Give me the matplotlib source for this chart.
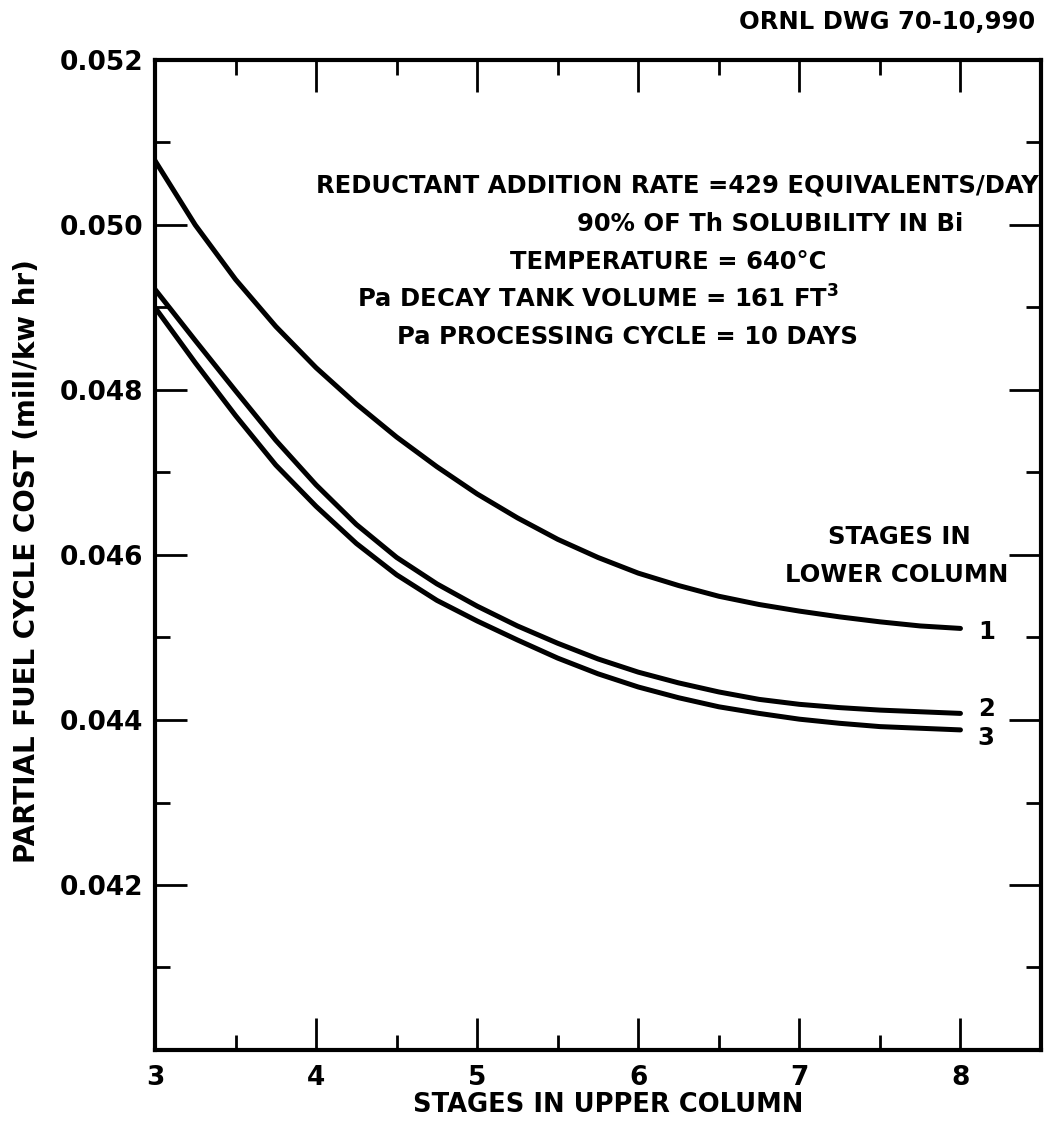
"""
ORNL DWG 70-10,990: partial fuel cycle cost vs stages in the upper column,
one curve per number of stages in the lower column.
Writes out.png.
"""

import matplotlib

matplotlib.use("Agg")
import matplotlib.pyplot as plt
from matplotlib.ticker import MultipleLocator, FixedLocator

# stages in upper column
stages_upper = [3.0, 3.25, 3.5, 3.75, 4.0, 4.25, 4.5, 4.75, 5.0, 5.25, 5.5,
                5.75, 6.0, 6.25, 6.5, 6.75, 7.0, 7.25, 7.5, 7.75, 8.0]

# partial fuel cycle cost, mill/kw hr, for 1, 2 and 3 stages in lower column
cost_lower_1 = [0.05078, 0.05000, 0.04934, 0.04877, 0.04827, 0.04783, 0.04743,
                0.04707, 0.04674, 0.04645, 0.04619, 0.04597, 0.04578, 0.04563,
                0.04550, 0.04540, 0.04532, 0.04525, 0.04519, 0.04514, 0.04511]
cost_lower_2 = [0.04922, 0.04860, 0.04799, 0.04739, 0.04685, 0.04637, 0.04597,
                0.04565, 0.04538, 0.04514, 0.04493, 0.04474, 0.04458, 0.04445,
                0.04434, 0.04425, 0.04419, 0.04415, 0.04412, 0.04410, 0.04408]
cost_lower_3 = [0.04900, 0.04833, 0.04769, 0.04709, 0.04659, 0.04614, 0.04576,
                0.04545, 0.04520, 0.04497, 0.04475, 0.04456, 0.04440, 0.04427,
                0.04416, 0.04408, 0.04401, 0.04396, 0.04392, 0.04390, 0.04388]
curve_names = ["1", "2", "3"]
label_offsets = [-0.00004, 0.00005, -0.0001]   # curve-end label nudge

y_ticks = [0.040, 0.042, 0.044, 0.046, 0.048, 0.050, 0.052]
y_labels = ["", "0.042", "0.044", "0.046", "0.048", "0.050", "0.052"]
x_ticks = [3, 4, 5, 6, 7, 8]

notes = [
    ("REDUCTANT ADDITION RATE =429 EQUIVALENTS/DAY", 316, 186),
    ("90% OF Th SOLUBILITY IN Bi", 577, 224),
    ("TEMPERATURE = 640°C", 510, 262),
    ("Pa DECAY TANK VOLUME = 161 FT$^\\mathbf{3}$", 357, 299),
    ("Pa PROCESSING CYCLE = 10 DAYS", 397, 337),
]

W, H = 1050, 1137
FONT = dict(family="DejaVu Sans", weight="bold", color="black")


def fx(px):
    return px / W


def fy(py):
    return 1 - py / H


def main():
    fig = plt.figure(figsize=(W / 100, H / 100), dpi=100)
    ax = fig.add_axes([fx(155), fy(1050), fx(1041) - fx(155), fy(60) - fy(1050)])

    curves = [cost_lower_1, cost_lower_2, cost_lower_3]
    for ys, name, off in zip(curves, curve_names, label_offsets):
        ax.plot(stages_upper, ys, color="black", lw=3.6,
                solid_capstyle="round", solid_joinstyle="round")
        ax.text(8.16, ys[-1] + off, name, ha="center", va="center", fontsize=17.5, **FONT)

    ax.set_xlim(3, 8.5)
    ax.set_ylim(0.040, 0.052)
    ax.xaxis.set_major_locator(FixedLocator(x_ticks))
    ax.xaxis.set_minor_locator(MultipleLocator(0.5))
    ax.yaxis.set_major_locator(FixedLocator(y_ticks))
    ax.yaxis.set_minor_locator(MultipleLocator(0.001))
    ax.set_xticklabels([str(v) for v in x_ticks])
    ax.set_yticklabels(y_labels)
    ax.tick_params(which="both", direction="in", top=True, right=True,
                   color="black", width=2)
    ax.tick_params(which="major", length=23, labelsize=19)
    ax.tick_params(which="minor", length=11)
    ax.tick_params(axis="x", which="major", pad=11)
    ax.tick_params(axis="y", which="major", pad=8.5)
    for lab in ax.get_xticklabels() + ax.get_yticklabels():
        lab.set_fontweight("bold")
    for sp in ax.spines.values():
        sp.set_linewidth(3)

    for txt, x0, y0 in notes:
        fig.text(fx(x0), fy(y0), txt, ha="left", va="center", fontsize=17.5, **FONT)

    fig.text(fx(1035), fy(22), "ORNL DWG 70-10,990", ha="right", va="center",
             fontsize=17.5, **FONT)
    fig.text(fx(899), fy(537), "STAGES IN", ha="center", va="center", fontsize=17.5, **FONT)
    fig.text(fx(897), fy(575), "LOWER COLUMN", ha="center", va="center", fontsize=17.5, **FONT)

    fig.text(fx(608), fy(1105), "STAGES IN UPPER COLUMN", ha="center", va="center",
             fontsize=18.5, **FONT)
    fig.text(fx(27), fy(561), "PARTIAL FUEL CYCLE COST (mill/kw hr)", ha="center",
             va="center", rotation=90, fontsize=20, **FONT)

    fig.savefig("out.png", dpi=100)
    plt.close(fig)


if __name__ == "__main__":
    main()
